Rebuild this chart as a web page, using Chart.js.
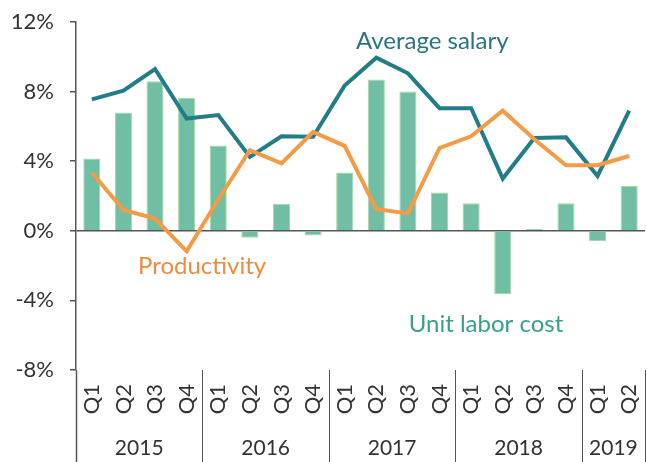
<!DOCTYPE html>
<html>
<head>
<meta charset="utf-8">
<script src="https://cdn.jsdelivr.net/npm/chart.js@4/dist/chart.umd.min.js"></script>
<style>
  html, body { margin: 0; padding: 0; background: #fff; }
  #wrap { width: 647px; height: 462px; position: relative; }
</style>
</head>
<body>
<div id="wrap"><canvas id="chart"></canvas></div>
<script>
const quarters = ["Q1", "Q2", "Q3", "Q4", "Q1", "Q2", "Q3", "Q4", "Q1", "Q2", "Q3", "Q4", "Q1", "Q2", "Q3", "Q4", "Q1", "Q2"];
const years = ["2015", "2016", "2017", "2018", "2019"];
const quartersPerYear = [4, 4, 4, 4, 2];
const unitLaborCost = [4.15, 6.8, 8.6, 7.65, 4.9, -0.4, 1.55, -0.27, 3.35, 8.7, 8.0, 2.2, 1.58, -3.65, 0.1, 1.58, -0.6, 2.57];
const averageSalary = [7.55, 8.05, 9.3, 6.45, 6.65, 4.25, 5.43, 5.4, 8.35, 9.95, 9.05, 7.05, 7.05, 3.0, 5.33, 5.37, 3.15, 6.9];
const productivity = [3.35, 1.2, 0.7, -1.18, 1.8, 4.63, 3.87, 5.68, 4.88, 1.24, 1.0, 4.76, 5.43, 6.9, 5.26, 3.77, 3.77, 4.3];
const yTicks = [-8, -4, 0, 4, 8, 12];

const fontFamily = "Lato, 'DejaVu Sans', sans-serif";
const axisColor = "#555";
const textColor = "#333";

const yearsPlugin = {
  id: "yearGroups",
  afterDraw(chart) {
    const { ctx, chartArea, scales } = chart;
    const x = scales.x;
    const bottom = chart.height;
    ctx.save();
    ctx.strokeStyle = axisColor;
    let start = 0;
    const bounds = [-0.5];
    quartersPerYear.forEach((n) => {
      start += n;
      bounds.push(start - 0.5);
    });
    bounds.forEach((b, i) => {
      const px = Math.round(x.getPixelForValue(b)) + 0.5;
      ctx.lineWidth = i === 0 ? 1.5 : 1;
      ctx.beginPath();
      ctx.moveTo(px, chartArea.bottom);
      ctx.lineTo(px, bottom);
      ctx.stroke();
    });
    ctx.fillStyle = textColor;
    ctx.font = `21px ${fontFamily}`;
    ctx.textAlign = "center";
    ctx.textBaseline = "middle";
    years.forEach((year, i) => {
      const mid = (bounds[i] + bounds[i + 1]) / 2;
      ctx.fillText(year, x.getPixelForValue(mid), 448);
    });
    ctx.restore();
  },
};

const labelsPlugin = {
  id: "seriesLabels",
  afterDatasetsDraw(chart) {
    const { ctx, scales } = chart;
    const x = scales.x;
    const y = scales.y;
    const items = [
      { text: "Average salary", xv: 10.77, yv: 10.9, color: "#2b7482" },
      { text: "Productivity", xv: 3.49, yv: -2.06, color: "#f08a3c" },
      { text: "Unit labor cost", xv: 12.47, yv: -5.37, color: "#3a9e8e" },
    ];
    ctx.save();
    ctx.font = `24px ${fontFamily}`;
    ctx.textAlign = "center";
    ctx.textBaseline = "middle";
    items.forEach((item) => {
      ctx.fillStyle = item.color;
      ctx.fillText(item.text, x.getPixelForValue(item.xv), y.getPixelForValue(item.yv));
    });
    ctx.restore();
  },
};

new Chart(document.getElementById("chart"), {
  type: "bar",
  data: {
    labels: quarters,
    datasets: [
      {
        type: "line",
        label: "Average salary",
        data: averageSalary,
        borderColor: "#237d89",
        borderWidth: 4,
        pointRadius: 0,
        tension: 0,
        order: 1,
      },
      {
        type: "line",
        label: "Productivity",
        data: productivity,
        borderColor: "#f59a45",
        borderWidth: 4,
        pointRadius: 0,
        tension: 0,
        order: 0,
      },
      {
        label: "Unit labor cost",
        data: unitLaborCost,
        backgroundColor: "#70bfa4",
        borderColor: "#a3d99c",
        borderWidth: 1,
        barPercentage: 0.54,
        categoryPercentage: 1,
        order: 2,
      },
    ],
  },
  options: {
    responsive: true,
    maintainAspectRatio: false,
    animation: false,
    layout: { padding: { top: 22, right: 2, left: 0, bottom: 0 } },
    plugins: {
      legend: { display: false },
      tooltip: { enabled: false },
    },
    scales: {
      x: {
        grid: { display: false, drawTicks: false },
        border: { display: false },
        ticks: {
          color: textColor,
          font: { family: fontFamily, size: 22 },
          minRotation: 90,
          maxRotation: 90,
          autoSkip: false,
          padding: 14,
        },
        afterFit(scale) {
          scale.height = 92;
          scale.paddingLeft = 0;
          scale.paddingRight = 0;
        },
      },
      y: {
        min: -8,
        max: 12,
        afterBuildTicks(scale) {
          scale.ticks = yTicks.map((v) => ({ value: v }));
        },
        grid: {
          drawOnChartArea: true,
          color: (c) => (c.tick && c.tick.value === 0 ? axisColor : "transparent"),
          lineWidth: 1.5,
          tickColor: axisColor,
          tickLength: 6,
        },
        border: { color: axisColor, width: 1.5 },
        ticks: {
          color: textColor,
          font: { family: fontFamily, size: 22 },
          padding: 16,
          callback: (v) => v + "%",
        },
        afterFit(scale) {
          scale.width = 76;
          scale.paddingTop = 0;
          scale.paddingBottom = 0;
        },
      },
    },
  },
  plugins: [yearsPlugin, labelsPlugin],
});
</script>
</body>
</html>
